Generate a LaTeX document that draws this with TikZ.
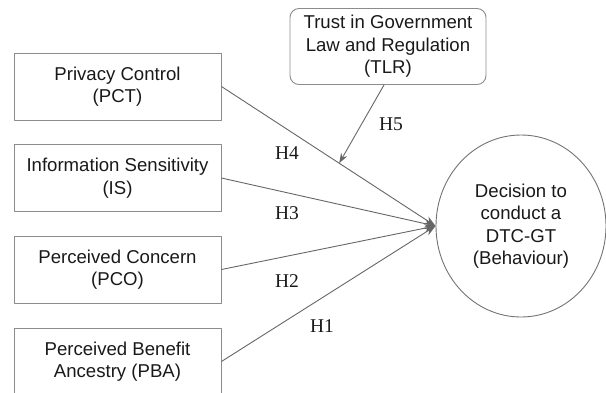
\documentclass[tikz,border=0pt]{standalone}
\usepackage{fontspec}
\setmainfont{Liberation Sans}
\newfontfamily\hypfont{Liberation Serif}
\usetikzlibrary{arrows.meta,shapes.geometric}

\begin{document}
\begin{tikzpicture}[x=1pt,y=-1pt,line join=round,>={Stealth[length=11pt,width=8pt]},
		construct/.style={draw=black!45,line width=0.9pt,rectangle,minimum width=207pt,minimum height=67pt,
			align=center,inner sep=2pt,font=\fontsize{18.6}{22.5}\selectfont,text=black!90},
		trust/.style={construct,rounded corners=9pt,minimum width=196pt,minimum height=76pt},
		outcome/.style={draw=black!55,line width=0.9pt,ellipse,minimum width=170pt,minimum height=182pt,
			align=center,inner sep=0pt,font=\fontsize{18.6}{22.5}\selectfont,text=black!90},
		path/.style={draw=black!60,line width=0.9pt,->},
		hyp/.style={font=\hypfont\fontsize{19.5}{22}\selectfont,text=black!90}]
			\useasboundingbox (0,0) rectangle (606,392);
			% constructs on the left
			\node[construct] (pct) at (117.5,86.5) {Privacy Control\\(PCT)};
			\node[construct] (is) at (117.5,178) {Information Sensitivity\\(IS)};
			\node[construct] (pco) at (117.5,269.5) {Perceived Concern\\(PCO)};
			\node[construct] (pba) at (117.5,361.5) {Perceived Benefit\\Ancestry (PBA)};
			\node[trust] (tlr) at (388,46.5) {Trust in Government\\Law and Regulation\\(TLR)};
			\node[outcome] (dtc) at (521,226) {Decision to\\conduct a\\DTC-GT\\(Behaviour)};
			% hypotheses
			\draw[path] (pct.east) -- (dtc.west) coordinate[pos=0.55] (mod);
			\draw[path] (is.east) -- (dtc.west);
			\draw[path] (pco.east) -- (dtc.west);
			\draw[path] (pba.east) -- (dtc.west);
			\draw[path,>={Stealth[length=10pt,width=7pt]}] (tlr.south) ++(-4,0) coordinate (tlrs) -- (mod);
			\node[hyp] (h4) at (287,153) {H4};
			\node[hyp] (h3) at (287,213) {H3};
			\node[hyp] (h2) at (287,281) {H2};
			\node[hyp] (h1) at (322,326) {H1};
			\node[hyp] (h5) at (391,124) {H5};
		\end{tikzpicture}
\end{document}
